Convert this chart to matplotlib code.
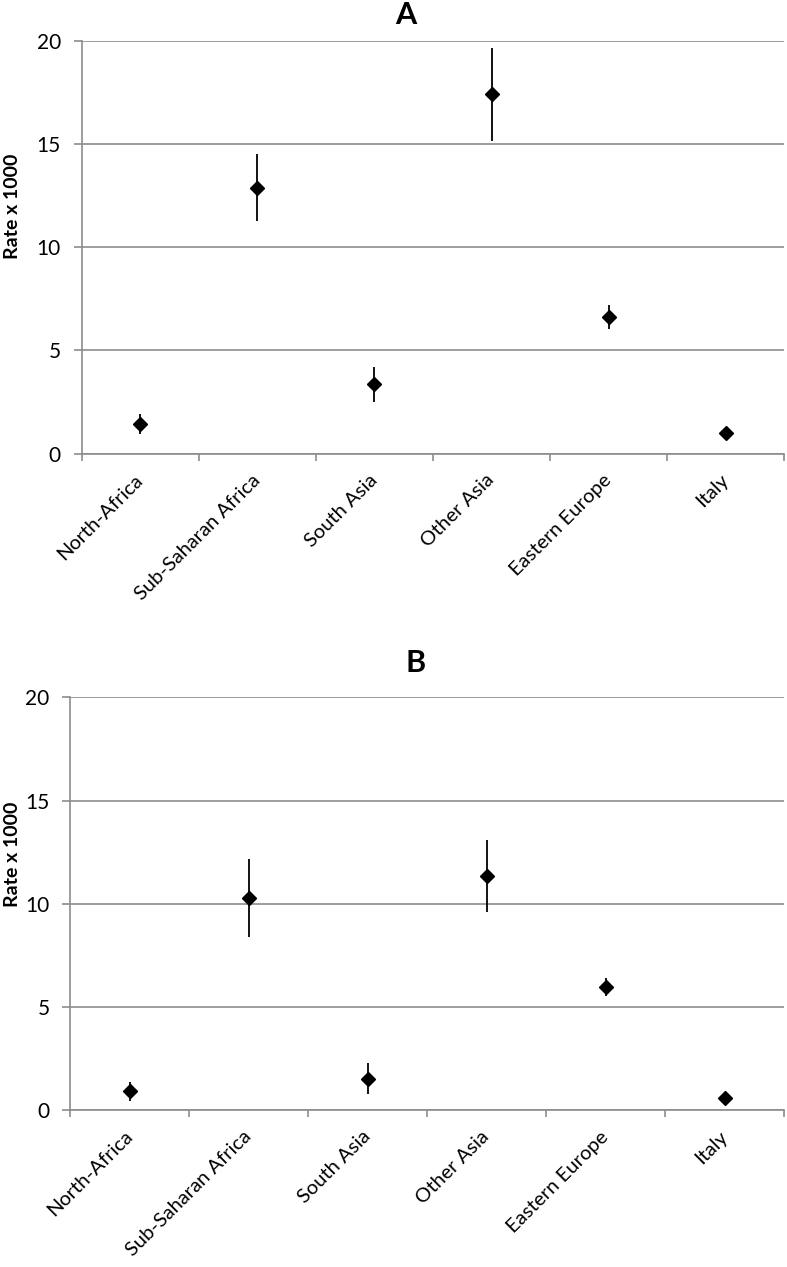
import numpy as np
import matplotlib
matplotlib.use("Agg")
import matplotlib.pyplot as plt
from matplotlib.ticker import FixedLocator, NullFormatter

plt.rcParams['font.family'] = ['Lato', 'DejaVu Sans']

regions = ["North-Africa", "Sub-Saharan Africa", "South Asia",
           "Other Asia", "Eastern Europe", "Italy"]

# panel A: rate, lower and upper CI
rate_a = [1.44, 12.88, 3.36, 17.40, 6.62, 1.02]
low_a = [0.95, 11.27, 2.52, 15.16, 6.05, 0.97]
high_a = [1.91, 14.51, 4.21, 19.63, 7.20, 1.07]

# panel B
rate_b = [0.93, 10.28, 1.53, 11.36, 5.99, 0.58]
low_b = [0.47, 8.41, 0.79, 9.62, 5.53, 0.54]
high_b = [1.37, 12.15, 2.27, 13.07, 6.42, 0.62]

grey = "#8c8c8c"

def panel(ax, rate, low, high):
    x = np.arange(len(regions))
    rate = np.array(rate)
    yerr = [rate - np.array(low), np.array(high) - rate]
    ax.errorbar(x, rate, yerr=yerr, fmt='D', color='black', ms=7,
                elinewidth=1.3, capsize=0, zorder=3)
    ax.set_xlim(-0.5, len(regions) - 0.5)
    ax.set_ylim(0, 20)
    ax.set_yticks([0, 5, 10, 15, 20])
    ax.yaxis.grid(True, color=grey, lw=1.2)
    ax.set_axisbelow(True)
    for s in ['top', 'right']:
        ax.spines[s].set_visible(False)
    for s in ['left', 'bottom']:
        ax.spines[s].set_color(grey)
        ax.spines[s].set_linewidth(1.2)
    # labels at centres, tick marks at category boundaries
    ax.set_xticks(x)
    ax.set_xticklabels(regions, rotation=45, ha='right', va='center',
                       rotation_mode='anchor', fontsize=14.5)
    ax.tick_params(axis='x', which='major', length=0, pad=17)
    ax.xaxis.set_minor_locator(FixedLocator(np.arange(len(regions) + 1) - 0.5))
    ax.xaxis.set_minor_formatter(NullFormatter())
    ax.tick_params(axis='x', which='minor', length=5, color=grey, width=1.2)
    ax.tick_params(axis='y', length=6, color=grey, width=1.2, labelsize=15, pad=9)
    ax.set_ylabel("Rate x 1000", fontsize=14, fontweight='bold')

fig = plt.figure(figsize=(7.87, 12.67), dpi=100)
ax_a = fig.add_axes([0.1038, 0.6419, 0.8928, 0.3260])
ax_b = fig.add_axes([0.0893, 0.1237, 0.9069, 0.3259])

panel(ax_a, rate_a, low_a, high_a)
panel(ax_b, rate_b, low_b, high_b)

fig.text(406 / 787, 1 - 24 / 1267, "A", ha='center', va='baseline',
         fontsize=22, fontweight='bold')
fig.text(416 / 787, 1 - 672 / 1267, "B", ha='center', va='baseline',
         fontsize=22, fontweight='bold')

ax_a.yaxis.set_label_coords(-0.087, 0.60)
ax_b.yaxis.set_label_coords(-0.0695, 0.62)

fig.savefig("out.png", dpi=100)
